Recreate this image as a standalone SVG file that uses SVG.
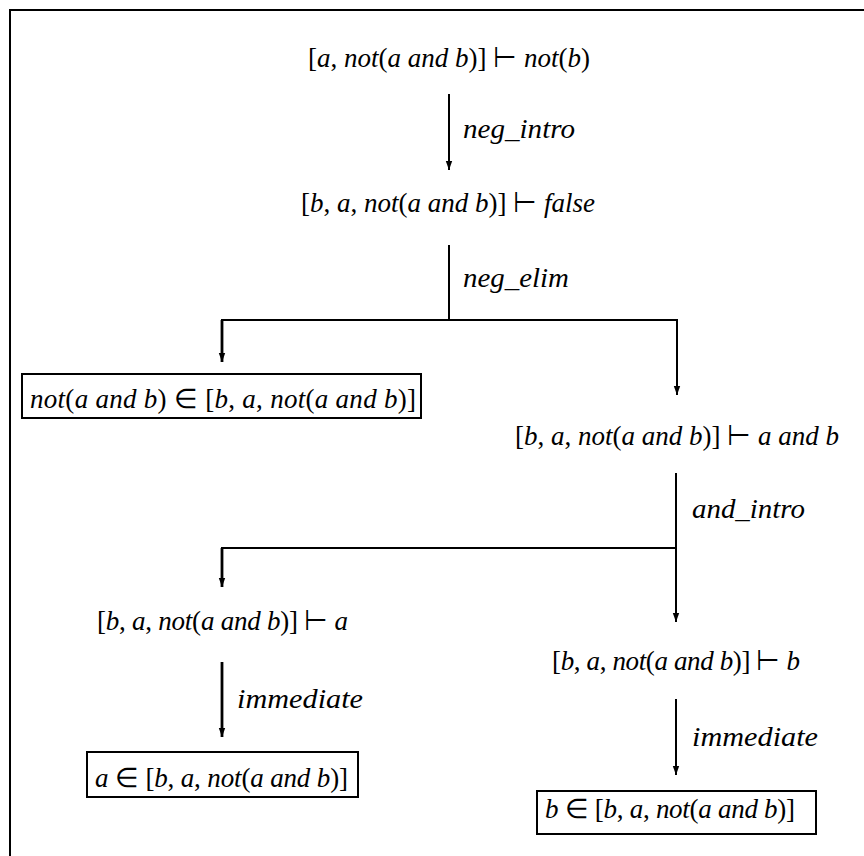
<svg xmlns="http://www.w3.org/2000/svg" width="864" height="856" viewBox="0 0 864 856">
<style>
  .t { font-family: 'Liberation Serif', 'Times New Roman', serif; font-size: 27px; font-style: italic; fill: #000; }
  .r { font-style: normal; }
  .ln { stroke: #000; stroke-width: 2; fill: none; }
  .thick { stroke-width: 2.8; }
  .box { stroke: #000; stroke-width: 2; fill: #fff; }
</style>
<defs>
  <marker id="ah" viewBox="0 -4 9 8" refX="9" refY="0" markerWidth="9" markerHeight="8" markerUnits="userSpaceOnUse" orient="auto">
    <path d="M0,-3.2 L9,0 L0,3.2 Z" fill="#000"/>
  </marker>
</defs>
<rect x="0" y="0" width="864" height="856" fill="#fff"/>
<path d="M10,856 V10 H864" class="ln"/>

<g id="connectors">
  <line x1="449" y1="94" x2="449" y2="170" class="ln" marker-end="url(#ah)"/>
  <text class="t" x="463" y="138" textLength="112" lengthAdjust="spacingAndGlyphs">neg_intro</text>

  <line x1="449" y1="245" x2="449" y2="320" class="ln"/>
  <line x1="221" y1="320" x2="678" y2="320" class="ln"/>
  <line x1="222" y1="320" x2="222" y2="362" class="ln thick" marker-end="url(#ah)"/>
  <line x1="677" y1="320" x2="677" y2="395" class="ln" marker-end="url(#ah)"/>
  <text class="t" x="463" y="287" textLength="106" lengthAdjust="spacingAndGlyphs">neg_elim</text>

  <line x1="676" y1="473" x2="676" y2="622" class="ln" marker-end="url(#ah)"/>
  <line x1="221" y1="548" x2="677" y2="548" class="ln"/>
  <line x1="222" y1="548" x2="222" y2="587" class="ln thick" marker-end="url(#ah)"/>
  <text class="t" x="692" y="518" textLength="113" lengthAdjust="spacingAndGlyphs">and_intro</text>

  <line x1="222" y1="662" x2="222" y2="737" class="ln thick" marker-end="url(#ah)"/>
  <text class="t" x="237" y="708" textLength="126" lengthAdjust="spacingAndGlyphs">immediate</text>

  <line x1="676" y1="699" x2="676" y2="775" class="ln" marker-end="url(#ah)"/>
  <text class="t" x="692" y="746" textLength="126" lengthAdjust="spacingAndGlyphs">immediate</text>
</g>

<g id="n1">
  <text class="t" x="308" y="67"><tspan class="r">[</tspan>a<tspan class="r">, </tspan>not<tspan class="r">(</tspan>a and b<tspan class="r">)] ⊢ </tspan>not<tspan class="r">(</tspan>b<tspan class="r">)</tspan></text>
</g>
<g id="n2">
  <text class="t" x="301" y="212"><tspan class="r">[</tspan>b<tspan class="r">, </tspan>a<tspan class="r">, </tspan>not<tspan class="r">(</tspan>a and b<tspan class="r">)] ⊢ </tspan>false</text>
</g>
<g id="leaf1">
  <rect x="22" y="374" width="399" height="44" class="box"/>
  <text class="t" x="30" y="408" textLength="386" lengthAdjust="spacing">not<tspan class="r">(</tspan>a and b<tspan class="r">) ∈ [</tspan>b<tspan class="r">, </tspan>a<tspan class="r">, </tspan>not<tspan class="r">(</tspan>a and b<tspan class="r">)]</tspan></text>
</g>
<g id="n3">
  <text class="t" x="515" y="445"><tspan class="r">[</tspan>b<tspan class="r">, </tspan>a<tspan class="r">, </tspan>not<tspan class="r">(</tspan>a and b<tspan class="r">)] ⊢ </tspan>a and b</text>
</g>
<g id="n4">
  <text class="t" x="97" y="630" textLength="251" lengthAdjust="spacing"><tspan class="r">[</tspan>b<tspan class="r">, </tspan>a<tspan class="r">, </tspan>not<tspan class="r">(</tspan>a and b<tspan class="r">)] ⊢ </tspan>a</text>
</g>
<g id="leaf2">
  <rect x="87" y="752" width="271" height="45" class="box"/>
  <text class="t" x="95" y="787" textLength="253" lengthAdjust="spacing">a<tspan class="r"> ∈ [</tspan>b<tspan class="r">, </tspan>a<tspan class="r">, </tspan>not<tspan class="r">(</tspan>a and b<tspan class="r">)]</tspan></text>
</g>
<g id="n5">
  <text class="t" x="552" y="670" textLength="248" lengthAdjust="spacing"><tspan class="r">[</tspan>b<tspan class="r">, </tspan>a<tspan class="r">, </tspan>not<tspan class="r">(</tspan>a and b<tspan class="r">)] ⊢ </tspan>b</text>
</g>
<g id="leaf3">
  <rect x="537" y="791" width="279" height="43" class="box"/>
  <text class="t" x="545" y="818" textLength="250" lengthAdjust="spacing">b<tspan class="r"> ∈ [</tspan>b<tspan class="r">, </tspan>a<tspan class="r">, </tspan>not<tspan class="r">(</tspan>a and b<tspan class="r">)]</tspan></text>
</g>
</svg>
